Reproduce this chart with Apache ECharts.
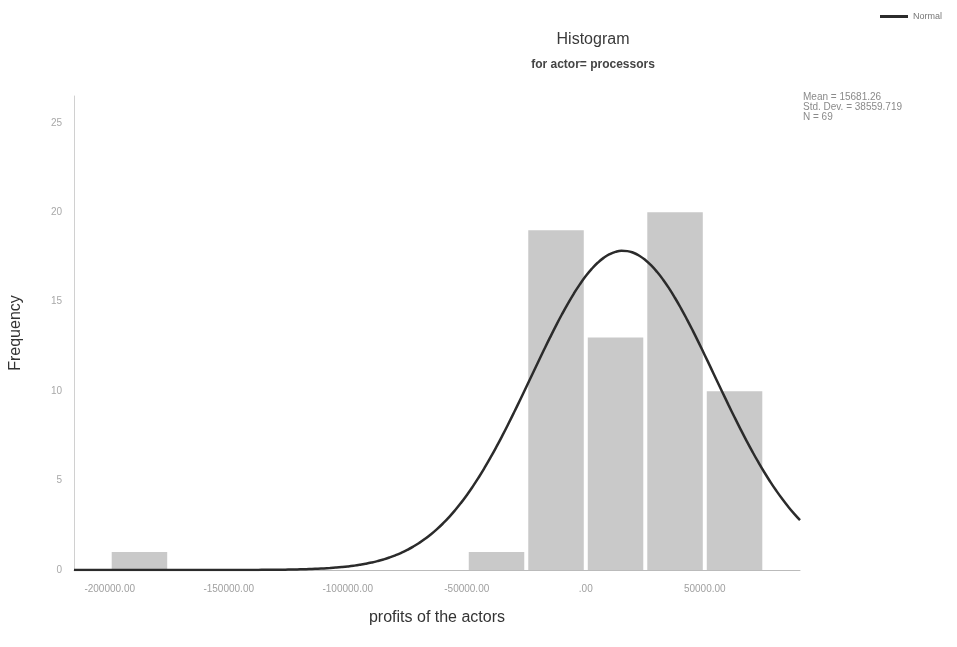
<!DOCTYPE html>
<html>
<head>
<meta charset="utf-8">
<script src="https://cdn.jsdelivr.net/npm/echarts@6/dist/echarts.min.js"></script>
<style>
  html, body { margin: 0; padding: 0; background: #ffffff; }
  #chart { width: 957px; height: 647px; }
</style>
</head>
<body>
<div id="chart"></div>
<script>
// Histogram bins: lower edge, upper edge and frequency
const binStarts = [-200000, -50000, -25000, 0, 25000, 50000];
const binEnds   = [-175000, -25000, 0, 25000, 50000, 75000];
const binCounts = [1, 1, 19, 13, 20, 10];

// Summary statistics shown in the corner and used for the normal curve
const statMean = 15681.26;
const statStdDev = 38559.719;
const statN = 69;
const binWidth = 25000;

// Axis ticks
const xTicks = [-200000, -150000, -100000, -50000, 0, 50000];
const yTicks = [0, 5, 10, 15, 20, 25];

const xMin = -215000, xMax = 90000;

// Normal density scaled to frequency per bin
const curveX = [];
for (let x = xMin; x <= xMax; x += 2500) curveX.push(x);
const curveData = curveX.map(function (x) {
  const z = (x - statMean) / statStdDev;
  const y = statN * binWidth / (statStdDev * Math.sqrt(2 * Math.PI)) * Math.exp(-0.5 * z * z);
  return [x, y];
});

const barData = binStarts.map(function (s, i) { return [s, binEnds[i], binCounts[i]]; });

function fmtX(v) {
  if (v === 0) return '.00';
  return v.toFixed(2);
}

const chart = echarts.init(document.getElementById('chart'), null, { renderer: 'canvas' });
const font = 'Liberation Sans, Arial, sans-serif';

chart.setOption({
  animation: false,
  backgroundColor: '#ffffff',
  title: {
    text: 'Histogram',
    subtext: 'for actor= processors',
    left: 588,
    top: 27,
    textAlign: 'center',
    itemGap: 11,
    textStyle: { fontFamily: font, fontSize: 16, fontWeight: 'normal', color: '#3a3a3a' },
    subtextStyle: { fontFamily: font, fontSize: 12, fontWeight: 'bold', color: '#444444' }
  },
  legend: {
    right: 10,
    top: 7,
    icon: 'rect',
    itemWidth: 28,
    itemHeight: 3,
    itemGap: 4,
    textStyle: { fontFamily: font, fontSize: 9, color: '#777777' },
    data: ['Normal']
  },
  graphic: [{
    type: 'text',
    left: 803,
    top: 92,
    style: {
      text: 'Mean = 15681.26\nStd. Dev. = 38559.719\nN = 69',
      fontFamily: font,
      fontSize: 10,
      lineHeight: 10,
      fill: '#8a8a8a'
    }
  }],
  grid: { left: 70, right: 157, top: 96, bottom: 77, containLabel: false },
  xAxis: {
    type: 'value',
    min: xMin,
    max: xMax,
    name: 'profits of the actors',
    nameLocation: 'middle',
    nameGap: 40,
    nameTextStyle: { fontFamily: font, fontSize: 16, color: '#333333' },
    axisLine: { show: true, onZero: false, lineStyle: { color: '#bbbbbb', width: 1 } },
    axisTick: { show: false, customValues: xTicks },
    axisLabel: {
      customValues: xTicks,
      formatter: fmtX,
      fontFamily: font,
      fontSize: 10,
      color: '#a0a0a0',
      margin: 14
    },
    splitLine: { show: false }
  },
  yAxis: {
    type: 'value',
    min: 0,
    max: 26.5,
    name: 'Frequency',
    nameLocation: 'middle',
    nameGap: 50,
    nameTextStyle: { fontFamily: font, fontSize: 16, color: '#333333' },
    axisLine: { show: true, onZero: false, lineStyle: { color: '#d0d0d0', width: 1 } },
    axisTick: { show: false, customValues: yTicks },
    axisLabel: {
      customValues: yTicks,
      fontFamily: font,
      fontSize: 10,
      color: '#a8a8a8',
      margin: 12
    },
    splitLine: { show: false }
  },
  series: [
    {
      type: 'custom',
      name: 'Frequency',
      data: barData,
      encode: { x: [0, 1], y: 2 },
      renderItem: function (params, api) {
        const p0 = api.coord([api.value(0), api.value(2)]);
        const p1 = api.coord([api.value(1), 0]);
        const gap = 2;
        return {
          type: 'rect',
          shape: { x: p0[0] + gap, y: p0[1], width: p1[0] - p0[0] - gap * 2, height: p1[1] - p0[1] },
          style: { fill: '#c9c9c9' }
        };
      },
      z: 1
    },
    {
      type: 'line',
      name: 'Normal',
      data: curveData,
      smooth: true,
      showSymbol: false,
      lineStyle: { color: '#2b2b2b', width: 2.5 },
      itemStyle: { color: '#2b2b2b' },
      z: 3
    }
  ]
});
</script>
</body>
</html>
